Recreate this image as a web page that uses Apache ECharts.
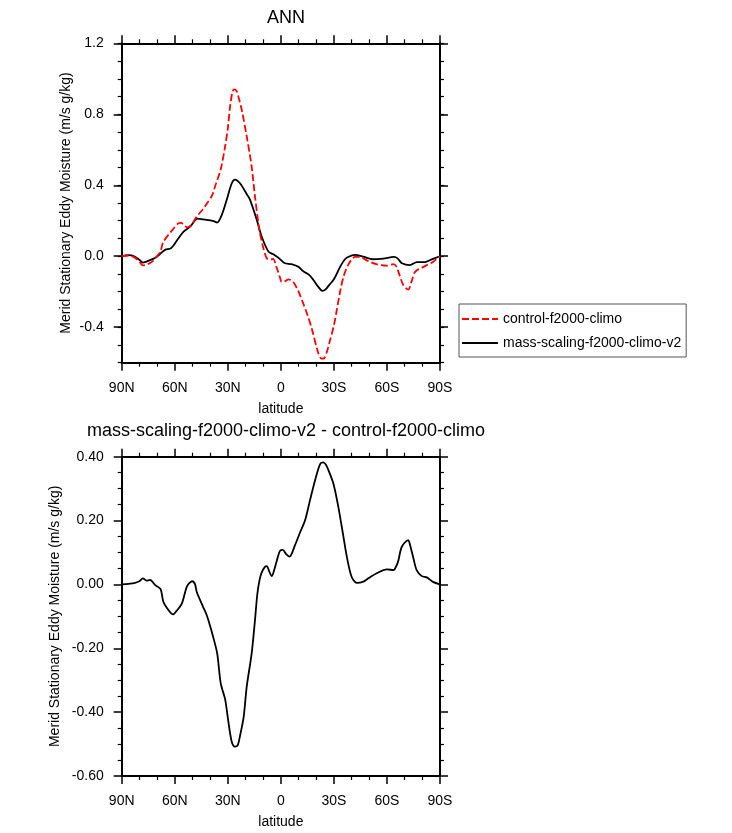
<!DOCTYPE html>
<html>
<head>
<meta charset="utf-8">
<title>ANN eddy moisture</title>
<script src="https://cdn.jsdelivr.net/npm/echarts@6/dist/echarts.min.js"></script>
<style>
  html, body { margin: 0; padding: 0; background: #fff; }
  #main { width: 732px; height: 833px; }
</style>
</head>
<body>
<div id="main"></div>
<script>
// latitude in degrees (positive = N), values in m/s g/kg
var ctlLat = [90, 86, 83, 80, 78, 76, 73, 70, 68, 66.5, 62, 58, 56.5, 53, 50.5, 47.5, 44, 42, 39, 37, 34, 31.5, 30, 28.7, 27.5, 26.5, 25, 23.5, 22, 19.3, 17.5, 16.5, 14.6, 12.7, 11.8, 10, 8, 6, 4.4, 2.5, 0.5, -0.5, -2.5, -4.3, -7, -10, -12.7, -15, -17.5, -21, -23, -24.5, -26, -27.8, -30, -31.6, -33.5, -35.4, -38, -42, -44.8, -48.6, -54, -60, -63.7, -65.5, -66.5, -69.3, -72, -74, -75.9, -80.6, -86, -90];
var ctlVal = [0, 0.004, -0.005, -0.03, -0.052, -0.048, -0.032, 0.0, 0.03, 0.08, 0.14, 0.185, 0.188, 0.163, 0.178, 0.225, 0.265, 0.295, 0.34, 0.40, 0.49, 0.62, 0.72, 0.845, 0.92, 0.94, 0.93, 0.88, 0.82, 0.675, 0.57, 0.505, 0.335, 0.185, 0.128, 0.05, -0.011, -0.019, -0.015, -0.06, -0.12, -0.145, -0.14, -0.13, -0.145, -0.2, -0.267, -0.33, -0.408, -0.54, -0.577, -0.575, -0.54, -0.474, -0.39, -0.305, -0.2, -0.117, -0.05, -0.004, -0.004, -0.023, -0.045, -0.053, -0.045, -0.06, -0.088, -0.164, -0.188, -0.14, -0.088, -0.06, -0.032, 0];

var expLat = [90, 86, 83, 80, 78, 76, 74, 71, 68, 65.5, 62, 58, 55, 51.3, 47, 44, 42, 38, 36, 33.4, 30.6, 27.8, 25.9, 23, 19, 17.4, 13.6, 10.8, 7, 4.5, 1, -2, -6, -10, -12.7, -16, -18.5, -21, -23.5, -25, -27.5, -30, -33.5, -36, -38, -42, -47, -52, -58, -64, -66, -68.5, -73, -77, -81.5, -85, -90];
var expVal = [0, 0.006, 0.0, -0.02, -0.036, -0.03, -0.022, -0.008, 0.015, 0.036, 0.046, 0.1, 0.139, 0.167, 0.212, 0.208, 0.205, 0.198, 0.19, 0.233, 0.318, 0.41, 0.432, 0.41, 0.345, 0.318, 0.205, 0.11, 0.026, 0.012, -0.012, -0.038, -0.045, -0.06, -0.085, -0.105, -0.135, -0.17, -0.195, -0.19, -0.16, -0.13, -0.06, -0.02, -0.004, 0.008, -0.004, -0.017, -0.013, -0.004, -0.012, -0.04, -0.05, -0.033, -0.033, -0.019, 0];

var diffLat = [90, 86, 83, 80, 78, 76, 74, 71, 68, 66.4, 63.6, 61, 59, 56, 53, 50, 48.5, 47.6, 44, 42, 40, 38.5, 36, 34, 31.5, 29.8, 27.8, 26, 24.5, 23, 21, 19.3, 16.5, 14.6, 13.3, 12, 10.8, 9, 8, 6.5, 5.2, 3.5, 2, 0.5, -1.1, -3, -4.9, -8, -11, -13.7, -16.5, -19.4, -22.2, -24, -25.5, -26.9, -29.7, -32.5, -35.4, -37.3, -40, -43, -46.7, -49.5, -54.2, -60, -63.7, -65.5, -66.5, -68.4, -72, -73, -75, -76.8, -79.7, -82.5, -86, -90];
var diffVal = [0, 0.002, 0.004, 0.01, 0.019, 0.012, 0.014, -0.002, -0.015, -0.055, -0.08, -0.094, -0.083, -0.06, -0.005, 0.01, 0.0, -0.023, -0.07, -0.095, -0.13, -0.16, -0.216, -0.31, -0.36, -0.425, -0.492, -0.508, -0.505, -0.472, -0.414, -0.32, -0.216, -0.11, -0.03, 0.015, 0.038, 0.055, 0.057, 0.04, 0.026, 0.05, 0.08, 0.105, 0.108, 0.095, 0.087, 0.123, 0.165, 0.201, 0.264, 0.327, 0.377, 0.382, 0.375, 0.358, 0.316, 0.243, 0.149, 0.087, 0.024, 0.005, 0.009, 0.019, 0.035, 0.047, 0.045, 0.06, 0.076, 0.118, 0.139, 0.125, 0.081, 0.045, 0.026, 0.022, 0.008, 0];

var topMajorY = [-0.4, 0.0, 0.4, 0.8, 1.2];
var yTitle = 'Merid Stationary Eddy Moisture (m/s g/kg)';
var ctlName = 'control-f2000-climo';
var expName = 'mass-scaling-f2000-climo-v2';

function pairs(xs, ys) {
    var out = [];
    for (var i = 0; i < xs.length; i++) out.push([xs[i], ys[i]]);
    return out;
}

function latLabel(v) {
    if (v > 0) return v + 'N';
    if (v < 0) return (-v) + 'S';
    return '0';
}

var FONT = '"Liberation Sans", Arial, Helvetica, sans-serif';
var lineStyle = { color: '#000', width: 2 };

function xAx(grid, pos, labels) {
    return {
        type: 'value', gridIndex: grid, position: pos,
        min: -90, max: 90, interval: 30, inverse: true,
        axisLine: { show: true, onZero: false, lineStyle: lineStyle },
        axisTick: { show: true, length: 8, lineStyle: { color: '#000', width: 1.5 } },
        minorTick: { show: true, splitNumber: 3, length: 4, lineStyle: { color: '#000', width: 1.2 } },
        splitLine: { show: false },
        axisLabel: labels ? { show: true, formatter: latLabel, margin: 18, fontSize: 14, color: '#000', fontFamily: FONT } : { show: false },
        name: labels ? 'latitude' : '',
        nameLocation: 'middle', nameGap: 39,
        nameTextStyle: { fontSize: 14, color: '#000', fontFamily: FONT }
    };
}

var option = {
    backgroundColor: '#fff',
    animation: false,
    title: [
        { text: 'ANN', left: 281, top: 4, textAlign: 'center',
          textStyle: { fontSize: 18, fontWeight: 'normal', color: '#000', fontFamily: FONT } },
        { text: 'mass-scaling-f2000-climo-v2 - control-f2000-climo', left: 281, top: 417, textAlign: 'center',
          textStyle: { fontSize: 18, fontWeight: 'normal', color: '#000', fontFamily: FONT } }
    ],
    legend: {
        orient: 'vertical', left: 459, top: 304,
        data: [ctlName, expName],
        itemWidth: 36, itemHeight: 14, itemGap: 10,
        padding: [8, 5, 7, 2],
        borderColor: '#555', borderWidth: 1, borderRadius: 0,
        itemStyle: { opacity: 0, borderWidth: 0 },
        textStyle: { fontSize: 14, color: '#000', fontFamily: FONT }
    },
    grid: [
        { left: 121.7, top: 43.3, width: 318.3, height: 319.4, outerBoundsMode: 'none' },
        { left: 121.7, top: 456.7, width: 318.3, height: 319.3, outerBoundsMode: 'none' }
    ],
    xAxis: [xAx(0, 'bottom', true), xAx(0, 'top', false), xAx(1, 'bottom', true), xAx(1, 'top', false)],
    yAxis: [
        // top panel: minor ticks every 0.1
        { type: 'value', gridIndex: 0, position: 'left', min: -0.6, max: 1.2, interval: 0.1,
          axisLine: { show: true, onZero: false, lineStyle: lineStyle },
          axisTick: { show: true, length: 4, lineStyle: { color: '#000', width: 1.2 } },
          axisLabel: { show: false }, splitLine: { show: false } },
        // top panel: labelled major ticks
        { type: 'value', gridIndex: 0, position: 'left', min: -0.6, max: 1.2,
          axisLine: { show: false, onZero: false },
          axisTick: { show: true, length: 8, customValues: topMajorY, lineStyle: { color: '#000', width: 1.5 } },
          axisLabel: { show: true, customValues: topMajorY, margin: 18, fontSize: 14, color: '#000', fontFamily: FONT,
                       formatter: function (v) { return v.toFixed(1); } },
          splitLine: { show: false },
          name: yTitle, nameLocation: 'middle', nameGap: 49, nameRotate: 90,
          nameTextStyle: { fontSize: 14, color: '#000', fontFamily: FONT } },
        { type: 'value', gridIndex: 0, position: 'right', min: -0.6, max: 1.2, interval: 0.1,
          axisLine: { show: true, onZero: false, lineStyle: lineStyle },
          axisTick: { show: true, length: 4, lineStyle: { color: '#000', width: 1.2 } },
          axisLabel: { show: false }, splitLine: { show: false } },
        { type: 'value', gridIndex: 0, position: 'right', min: -0.6, max: 1.2,
          axisLine: { show: false, onZero: false },
          axisTick: { show: true, length: 8, customValues: topMajorY, lineStyle: { color: '#000', width: 1.5 } },
          axisLabel: { show: false }, splitLine: { show: false } },
        // bottom panel
        { type: 'value', gridIndex: 1, position: 'left', min: -0.6, max: 0.4, interval: 0.2,
          axisLine: { show: true, onZero: false, lineStyle: lineStyle },
          axisTick: { show: true, length: 8, lineStyle: { color: '#000', width: 1.5 } },
          minorTick: { show: true, splitNumber: 4, length: 4, lineStyle: { color: '#000', width: 1.2 } },
          axisLabel: { show: true, margin: 18, fontSize: 14, color: '#000', fontFamily: FONT,
                       formatter: function (v) { return v.toFixed(2); } },
          splitLine: { show: false },
          name: yTitle, nameLocation: 'middle', nameGap: 60, nameRotate: 90,
          nameTextStyle: { fontSize: 14, color: '#000', fontFamily: FONT } },
        { type: 'value', gridIndex: 1, position: 'right', min: -0.6, max: 0.4, interval: 0.2,
          axisLine: { show: true, onZero: false, lineStyle: lineStyle },
          axisTick: { show: true, length: 8, lineStyle: { color: '#000', width: 1.5 } },
          minorTick: { show: true, splitNumber: 4, length: 4, lineStyle: { color: '#000', width: 1.2 } },
          axisLabel: { show: false }, splitLine: { show: false } }
    ],
    series: [
        { name: ctlName, type: 'line', xAxisIndex: 0, yAxisIndex: 0, data: pairs(ctlLat, ctlVal),
          showSymbol: false, symbol: 'none', smooth: 0.3, z: 3,
          lineStyle: { color: '#ff0000', width: 1.8, type: [7, 3] }, itemStyle: { color: '#ff0000' } },
        { name: expName, type: 'line', xAxisIndex: 0, yAxisIndex: 0, data: pairs(expLat, expVal),
          showSymbol: false, symbol: 'none', smooth: 0.3, z: 2,
          lineStyle: { color: '#000', width: 1.8, type: 'solid' }, itemStyle: { color: '#000' } },
        { name: 'diff', type: 'line', xAxisIndex: 2, yAxisIndex: 4, data: pairs(diffLat, diffVal),
          showSymbol: false, symbol: 'none', smooth: 0.3,
          lineStyle: { color: '#000', width: 1.8 }, itemStyle: { color: '#000' } }
    ]
};

var chart = echarts.init(document.getElementById('main'), null, { renderer: 'canvas' });
chart.setOption(option);
</script>
</body>
</html>
